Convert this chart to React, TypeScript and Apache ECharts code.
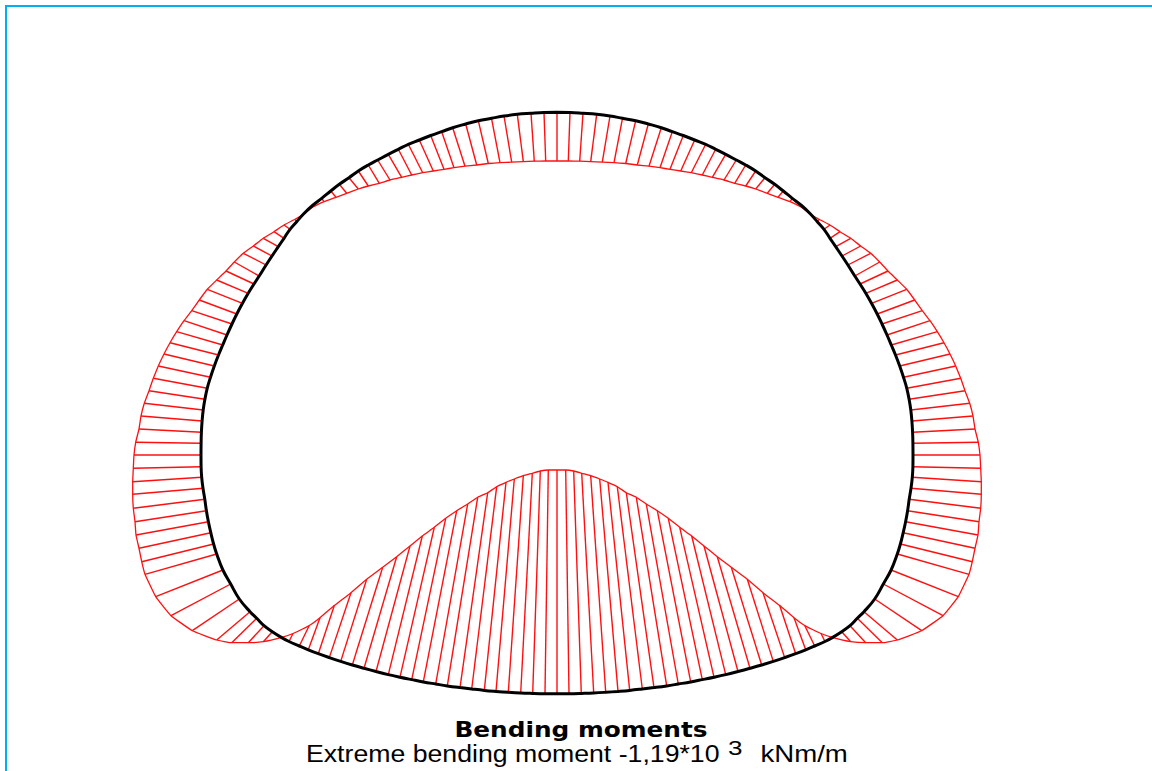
import React, { useEffect, useRef } from "react";
import * as echarts from "echarts";

const tunnelX = [557,544,531,517.3,504,491.5,478.3,465.7,452.7,441.7,430.7,419.3,408.3,398.3,388.3,377.7,368.3,358.3,349,339.3,330.7,321.7,312.5,303.5,296.7,290,284,278.3,272,266.1,259.2,254,248.2,242.5,236.8,232,227,222.7,218.5,214.3,210.5,207.2,204.9,203.2,202.1,201.4,201.1,201,201.1,201.7,203,204.8,206.4,208.4,210.8,213.6,216.7,222.9,230.7,239.3,250,256.7,264,272.3,281.7,289,299.3,308.3,318.3,329.3,340.7,352.3,364,376,388.3,400,411.7,423.3,435.7,447.3,460,471.7,484.3,496,508.3,520.7,532.7,545,557,
  569,581.3,593.7,605.7,618,629.7,642.3,654,666.7,678.3,690.7,702.3,714,725.7,738,750,761.7,773.3,784.7,795.7,805.7,814.7,825,832.3,841.7,850,857.3,864,874.7,883.3,891.1,897.3,900.4,903.2,905.6,907.6,909.2,911,912.3,912.9,913,912.9,912.6,911.9,910.8,909.1,906.8,903.5,899.7,895.5,891.3,887,882,877.2,871.5,865.8,860,854.8,847.9,842,835.7,830,824,817.3,810.5,801.5,792.3,783.3,774.7,765,755.7,745.7,736.3,725.7,715.7,705.7,694.7,683.3,672.3,661.3,648.3,635.7,622.5,610,596.7,583,570];
const tunnelY = [112.3,112.5,113.3,114.3,116,118.3,120.7,124,127.7,131.7,135.5,140,144.3,149.3,154.3,160,165,171,177.7,184.3,191,198.3,205.5,214,221.7,229.3,238.3,246.7,256,265,276,284,293.3,303.3,314,324,335,345,355,366,377.3,388.3,399.3,410,421,432.3,443.3,455,466.7,477.3,488.3,499.3,510.7,521.7,532.7,544,554,570,584,599,611.7,618.3,625.7,631.7,637.6,641.5,646,649.8,653.7,657.6,661.4,665,668.3,671.5,674.6,677.2,679.6,681.9,684,685.9,687.6,689,690.4,691.4,692.3,693,693.4,693.7,693.8,
  693.7,693.4,693,692.3,691.4,690.4,689,687.6,685.9,684,681.9,679.6,677.2,674.6,671.5,668.3,665,661.4,657.6,653.7,649.8,646,641.5,637.6,631.7,625.7,618.3,611.7,599,584,570,554,544,532.7,521.7,510.7,499.3,488.3,477.3,466.7,455,443.3,432.3,421,410,399.3,388.3,377.3,366,355,345,335,324,314,303.3,293.3,284,276,265,256,246.7,238.3,229.3,221.7,214,205.5,198.3,191,184.3,177.7,171,165,160,154.3,149.3,144.3,140,135.5,131.7,127.7,124,120.7,118.3,116,114.3,113.3,112.5];
const momentX = [557,545.7,534.3,523.3,511.7,500,488.3,476.7,465,454,444,433.3,422.7,411.7,401.7,390,379.3,368.3,358.3,346.7,336,324,313,303,295,284,274,263.3,253.3,243.3,234.3,226,216.7,207.3,199.3,191.7,184,176.7,170,164,158.3,153.3,149,144.3,141,139,135.7,134,133.3,132.7,132.7,133.3,135,136,139,141.7,145,155.7,171,192.3,216.7,231.7,248.3,263.3,281.7,293,309.3,320,334.3,351,366.7,382.7,396.7,410,422.3,434.3,445.7,456.7,467.7,477.7,487.7,496.7,506,514.3,523.3,532.3,540.3,548.3,557,
  565.7,573.7,581.7,590.7,599.7,608,617.3,626.3,636.3,646.3,657.3,668.3,679.7,691.7,704,717.3,731.3,747.3,763,779.7,794,804.7,821,832.3,850.7,865.7,882.3,897.3,921.7,943,958.3,969,972.3,975,978,979,980.7,981.3,981.3,980.7,980,978.3,975,973,969.7,965,960.7,955.7,950,944,937.3,930,922.3,914.7,906.7,897.3,888,879.7,870.7,860.7,850.7,840,830,819,811,801,790,778,767.3,755.7,745.7,734.7,724,712.3,702.3,691.3,680.7,670,660,649,637.3,625.7,614,602.3,590.7,579.7,568.3];
const momentY = [161,161,161.2,161.7,162.2,162.7,163.5,165,166.2,167.7,169.3,171,172.7,175,177.3,180,183.3,186,189,193.3,197.3,201.7,207,214.5,219.3,225,231.7,238.3,246,253.3,262,271,280,289.3,300,310.7,320.7,331.7,342.7,354,366,378.3,390.7,403.3,416,429,442.3,455,468.3,481.7,494.3,508.3,521.7,535,548.3,561.7,574.3,596.7,615.7,630.7,640,642.7,642.7,641.7,637.4,633.5,625.5,617.7,605.5,592.7,579.3,567.3,556.7,546,536,527.3,518.3,510.7,504,497.3,492.7,486.7,482.3,479,475.7,473.3,471,470,470,
  470,471,473.3,475.7,479,482.3,486.7,492.7,497.3,504,510.7,518.3,527.3,536,546,556.7,567.3,579.3,592.7,605.5,617.7,625.5,633.5,637.4,641.7,642.7,642.7,640,630.7,615.7,596.7,574.3,561.7,548.3,535,521.7,508.3,494.3,481.7,468.3,455,442.3,429,416,403.3,390.7,378.3,366,354,342.7,331.7,320.7,310.7,300,289.3,280,271,262,253.3,246,238.3,231.7,225,219.3,214.5,207,201.7,197.3,193.3,189,186,183.3,180,177.3,175,172.7,171,169.3,167.7,166.2,165,163.5,162.7,162.2,161.7,161.2,161];

const titleText = "Bending moments";
const extremeText = "Extreme bending moment -1,19*10";
const exponentText = "3";
const unitText = "kNm/m";

const BORDER = "#00B0F0";
const RED = "#FF1010";

function closedLoop(xs: number[], ys: number[]) {
  const pts = xs.map((x, i) => [x, ys[i]]);
  pts.push(pts[0]);
  return pts;
}

export default function App() {
  const ref = useRef<HTMLDivElement>(null);
  useEffect(() => {
    const chart = echarts.init(ref.current!, null, { renderer: "svg" });
    const spokes = tunnelX.map((x, i) => [x, tunnelY[i], momentX[i], momentY[i]]);
    chart.setOption({
      animation: false,
      backgroundColor: "#FFFFFF",
      grid: { left: 0, right: 0, top: 0, bottom: 0 },
      xAxis: { type: "value", min: 0, max: 1152, show: false },
      yAxis: { type: "value", min: 0, max: 771, inverse: true, show: false },
      series: [
        {
          type: "custom",
          coordinateSystem: "cartesian2d",
          data: spokes,
          z: 2,
          renderItem: (_p: any, api: any) => {
            const a = api.coord([api.value(0), api.value(1)]);
            const b = api.coord([api.value(2), api.value(3)]);
            return {
              type: "line",
              shape: { x1: a[0], y1: a[1], x2: b[0], y2: b[1] },
              style: { stroke: RED, lineWidth: 1.4, fill: "none" },
            };
          },
          encode: { x: [0, 2], y: [1, 3] },
        },
        {
          type: "line",
          data: closedLoop(momentX, momentY),
          showSymbol: false,
          smooth: 0.1,
          z: 3,
          lineStyle: { color: RED, width: 1.3 },
        },
        {
          type: "line",
          data: closedLoop(tunnelX, tunnelY),
          showSymbol: false,
          smooth: 0.4,
          z: 4,
          lineStyle: { color: "#000000", width: 3 },
        },
      ],
      graphic: [
        { type: "rect", shape: { x: 5, y: 5, width: 1147, height: 2 }, style: { fill: BORDER } },
        { type: "rect", shape: { x: 5, y: 5, width: 2, height: 766 }, style: { fill: BORDER } },
        {
          type: "text", x: 581, y: 730, scaleX: 1.18,
          style: { text: titleText, font: "bold 21px 'DejaVu Sans'", fill: "#000", textAlign: "center", textVerticalAlign: "middle" },
        },
        {
          type: "text", x: 306, y: 754, scaleX: 1.16,
          style: { text: extremeText, font: "23px 'Liberation Sans'", fill: "#000", textAlign: "left", textVerticalAlign: "middle" },
        },
        {
          type: "text", x: 728, y: 748.5, scaleX: 1.3,
          style: { text: exponentText, font: "20px 'Liberation Sans'", fill: "#000", textAlign: "left", textVerticalAlign: "middle" },
        },
        {
          type: "text", x: 760.5, y: 754, scaleX: 1.2,
          style: { text: unitText, font: "23px 'Liberation Sans'", fill: "#000", textAlign: "left", textVerticalAlign: "middle" },
        },
      ],
    });
    return () => chart.dispose();
  }, []);
  return <div ref={ref} style={{ position: "fixed", left: 0, top: 0, width: 1152, height: 771 }} />;
}
